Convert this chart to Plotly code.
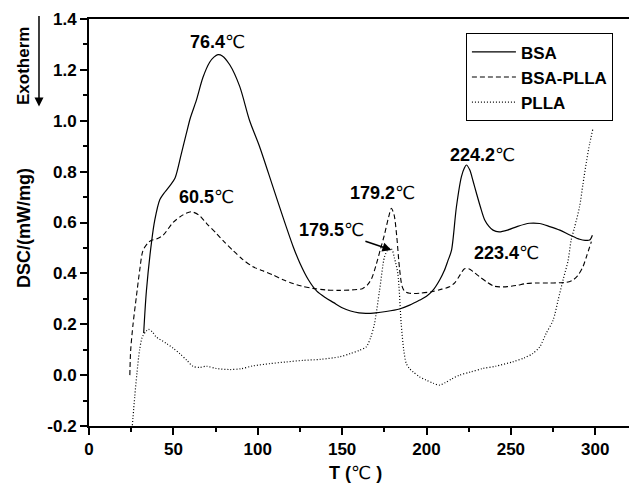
import plotly.graph_objects as go

# ---------------- data ----------------
bsa_x = [32.4, 34, 37, 39, 42, 45, 48, 51, 54.7, 57.7, 60, 63.6, 67.5, 71.5, 74, 76.4, 79, 83.4,
         89.3, 95.2, 101, 109, 115, 121, 125, 130, 135, 140, 145, 150, 155, 160, 164, 170, 176,
         184, 190, 196, 200, 204, 207.8, 210.5, 212.7, 214.8, 217.7, 220.7, 222.5, 223.6, 225.6,
         227.5, 229.6, 232, 234.5, 237, 239.4, 243, 248, 254, 261, 267, 273, 279, 284.9, 290.8,
         294, 296.7, 298.3]
bsa_y = [0.165, 0.33, 0.52, 0.61, 0.69, 0.72, 0.745, 0.775, 0.87, 0.95, 1.01, 1.08, 1.17, 1.23, 1.25,
         1.26, 1.255, 1.22, 1.135, 1.0, 0.90, 0.74, 0.62, 0.505, 0.44, 0.375, 0.33, 0.305, 0.285, 0.265,
         0.252, 0.245, 0.243, 0.245, 0.25, 0.26, 0.275, 0.295, 0.31, 0.335, 0.374, 0.41, 0.45, 0.49, 0.66,
         0.78, 0.815, 0.826, 0.807, 0.765, 0.715, 0.66, 0.61, 0.585, 0.57, 0.563, 0.57, 0.585, 0.597,
         0.596, 0.584, 0.57, 0.551, 0.534, 0.53, 0.531, 0.55]

bsapl_x = [24.2, 24.7, 26.1, 28.1, 30, 32, 35, 37, 40, 43.9, 49.8, 55.7, 60.5, 65, 69.6, 75.5, 80,
           85.3, 91, 97.2, 103, 109, 115, 120.9, 126, 132.7, 140, 148, 156, 162, 165, 167.5, 170,
           172.5, 175, 177.5, 179.2, 180.8, 182.3, 184, 185.5, 187, 190, 196, 203, 209, 213.6, 217,
           220, 222.5, 225, 228, 231.4, 236, 240, 243.3, 248, 253, 259, 265, 272, 278.8, 283, 286.8,
           289.5, 292.7, 295, 297.7]
bsapl_y = [0.0, 0.098, 0.2, 0.31, 0.41, 0.49, 0.52, 0.53, 0.535, 0.55, 0.60, 0.63, 0.642, 0.63, 0.597,
           0.557, 0.525, 0.49, 0.455, 0.426, 0.41, 0.394, 0.375, 0.36, 0.35, 0.341, 0.335, 0.333, 0.335,
           0.34, 0.355, 0.38, 0.43, 0.49, 0.55, 0.62, 0.656, 0.63, 0.55, 0.42, 0.35, 0.33, 0.322, 0.322,
           0.328, 0.338, 0.347, 0.365, 0.395, 0.418, 0.418, 0.405, 0.387, 0.365, 0.35, 0.347, 0.348,
           0.352, 0.36, 0.362, 0.362, 0.363, 0.365, 0.374, 0.39, 0.426, 0.47, 0.525]

plla_x = [25.7, 27.1, 28.4, 30, 31.6, 34, 35.3, 37.5, 39.9, 45.8, 50, 53.7, 58, 61.6, 65.6, 69.5,
          75.5, 83.4, 90, 97, 107, 117, 127, 137, 148.5, 155, 160, 164.3, 167, 169.2, 172.2, 175.1,
          176.8, 178, 179.5, 181, 183, 185, 186.5, 188, 190, 192, 196, 200, 204, 207.7, 211, 215,
          219.5, 226, 233.4, 241, 251, 258, 263, 267, 270.9, 275, 278, 280.9, 283.9, 285.7, 287.7,
          290.7, 292.7, 294.8, 296.7, 298.5]
plla_y = [-0.197, -0.085, 0.007, 0.1, 0.15, 0.174, 0.18, 0.17, 0.15, 0.125, 0.105, 0.085, 0.058, 0.035,
          0.03, 0.035, 0.026, 0.022, 0.025, 0.036, 0.045, 0.052, 0.058, 0.062, 0.072, 0.085, 0.097,
          0.111, 0.15, 0.203, 0.334, 0.465, 0.49, 0.498, 0.494, 0.46, 0.4, 0.203, 0.1, 0.046, 0.025,
          0.013, -0.007, -0.02, -0.032, -0.039, -0.03, -0.015, 0.0, 0.012, 0.026, 0.035, 0.052, 0.068,
          0.085, 0.11, 0.164, 0.216, 0.295, 0.374, 0.45, 0.53, 0.58, 0.662, 0.75, 0.84, 0.91, 0.965]

series_names = ["BSA", "BSA-PLLA", "PLLA"]
y_tickvals = [-0.2, 0.0, 0.2, 0.4, 0.6, 0.8, 1.0, 1.2, 1.4]
y_ticktext = ["-0.2", "0.0", "0.2", "0.4", "0.6", "0.8", "1.0", "1.2", "1.4"]
x_tickvals = [0, 50, 100, 150, 200, 250, 300]
x_ticktext = ["0", "50", "100", "150", "200", "250", "300"]

peak_labels = ["76.4", "60.5", "179.2", "224.2", "223.4"]
peak_label_x = [76.3, 69.7, 174.2, 233.3, 247.4]
peak_label_y = [1.311, 0.70, 0.717, 0.866, 0.48]
arrow_label = "179.5"
arrow_head = (179.2, 0.492)

# ---------------- figure ----------------
FONT = "Liberation Sans, Arial, DejaVu Sans"
fig = go.Figure()
styles = [dict(dash="solid", width=1.2), dict(dash="5px,3px", width=1.1), dict(dash="1px,2px", width=1.2)]
for name, xs, ys, st in zip(series_names, [bsa_x, bsapl_x, plla_x], [bsa_y, bsapl_y, plla_y], styles):
    fig.add_trace(go.Scatter(x=xs, y=ys, mode="lines", name=name,
                             line=dict(color="black", shape="spline", smoothing=0.8, **st)))

for lab, lx, ly in zip(peak_labels, peak_label_x, peak_label_y):
    fig.add_annotation(x=lx, y=ly, text=f"<b>{lab}</b>℃", showarrow=False,
                       xanchor="center", yanchor="middle",
                       font=dict(family=FONT, size=18, color="black"))

fig.add_annotation(x=arrow_head[0], y=arrow_head[1], text=f"<b>{arrow_label}</b>℃",
                   showarrow=True, ax=-60, ay=-20, arrowhead=2, arrowsize=1.2, arrowwidth=1.5,
                   arrowcolor="black", font=dict(family=FONT, size=18, color="black"))

# Exotherm label with arrow
fig.add_annotation(xref="paper", yref="paper", x=-0.12, y=0.885, text="<b>Exotherm</b>",
                   xanchor="center", yanchor="middle",
                   textangle=-90, showarrow=False, font=dict(family=FONT, size=17, color="black"))
fig.add_annotation(xref="paper", yref="paper", x=-0.0926, y=0.785, text="", showarrow=True,
                   xanchor="center", yanchor="middle",
                   ax=0, ay=-92, arrowhead=2, arrowsize=1.2, arrowwidth=1.5, arrowcolor="black")
# Axis titles
fig.add_annotation(xref="paper", yref="paper", x=-0.12, y=0.487, text="<b>DSC/(mW/mg)</b>",
                   xanchor="center", yanchor="middle",
                   textangle=-90, showarrow=False, font=dict(family=FONT, size=18, color="black"))
fig.add_annotation(xref="paper", yref="paper", x=0.4926, y=-0.115, text="<b>T (</b>℃ <b>)</b>",
                   xanchor="center", yanchor="middle",
                   showarrow=False, font=dict(family=FONT, size=18, color="black"))

axis_common = dict(showgrid=False, zeroline=False, showline=True, linecolor="black", linewidth=2,
                   ticks="outside", ticklen=7, tickwidth=2, tickcolor="black", automargin=False,
                   tickfont=dict(family=FONT, size=17, color="black", weight="bold"))
fig.update_xaxes(range=[0, 320], tickvals=x_tickvals, ticktext=x_ticktext, mirror=True,
                 minor=dict(ticks="outside", ticklen=4, tickwidth=1.5, dtick=25, tick0=0, tickcolor="black"),
                 **axis_common)
fig.update_yaxes(range=[-0.2, 1.4], tickvals=y_tickvals, ticktext=y_ticktext,
                 minor=dict(ticks="outside", ticklen=4, tickwidth=1.5, dtick=0.1, tick0=0, tickcolor="black"),
                 **axis_common)

fig.update_layout(
    width=630, height=483,
    margin=dict(l=89, r=1, t=19, b=57),
    paper_bgcolor="white", plot_bgcolor="white",
    showlegend=True,
    legend=dict(x=0.698, y=0.9646, xanchor="left", yanchor="top",
                bordercolor="black", borderwidth=1, bgcolor="white",
                font=dict(family=FONT, size=17, color="black", weight="bold"),
                tracegroupgap=0, itemwidth=44),
)

fig.write_html("out.html", config={"displayModeBar": False},
               post_script="document.body.style.margin='0px';")
